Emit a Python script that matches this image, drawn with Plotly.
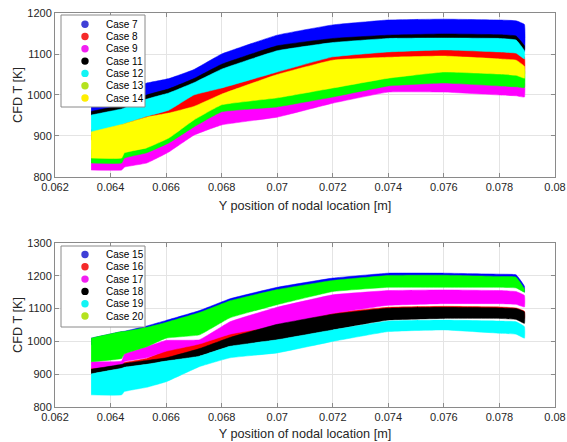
import plotly.graph_objects as go

# ---------------- data ----------------
X_TOP = [0.0633, 0.0644, 0.0645, 0.0653, 0.0661, 0.0670, 0.0680, 0.0700, 0.0720, 0.0740, 0.0760, 0.0780, 0.0786, 0.0789]
c7_hi = [1000, 1012, 1013, 1029, 1040, 1062, 1100, 1146, 1171, 1183, 1185, 1183, 1181, 1172]
c7_lo = [950, 965, 967, 988, 1003, 1028, 1060, 1106, 1127, 1137, 1138, 1137, 1133, 1105]
c8_hi = [915, 935, 937, 952, 968, 1005, 1022, 1060, 1098, 1110, 1115, 1110, 1107, 1093]
c8_lo = [890, 908, 910, 926, 936, 952, 982, 1030, 1065, 1072, 1075, 1068, 1065, 1050]
c9_hi = [849, 849, 861, 874, 898, 937, 974, 986, 1010, 1037, 1044, 1037, 1034, 1030]
c9_lo = [817, 817, 824, 834, 861, 902, 927, 946, 980, 1007, 1007, 1000, 998, 995]
c11_hi = [960, 975, 977, 1000, 1015, 1040, 1075, 1120, 1138, 1146, 1149, 1147, 1144, 1120]
c11_lo = [951, 966, 968, 990, 1005, 1030, 1063, 1108, 1128, 1138, 1139, 1138, 1134, 1108]
c12_hi = [951, 966, 968, 990, 1005, 1030, 1063, 1108, 1128, 1138, 1139, 1138, 1134, 1108]
c12_lo = [907, 928, 930, 948, 963, 1000, 1017, 1056, 1093, 1105, 1110, 1105, 1102, 1088]
c13_hi = [866, 866, 879, 891, 915, 959, 996, 1013, 1037, 1061, 1076, 1071, 1068, 1061]
c13_lo = [834, 834, 846, 859, 883, 922, 959, 971, 995, 1022, 1029, 1022, 1020, 1018]
c14_hi = [910, 928, 930, 946, 956, 972, 1002, 1050, 1085, 1092, 1095, 1088, 1085, 1070]
c14_lo = [846, 846, 859, 871, 895, 939, 976, 993, 1017, 1041, 1056, 1051, 1048, 1041]

X_BOT = [0.0633, 0.0644, 0.0645, 0.0653, 0.0660, 0.0672, 0.0683, 0.0700, 0.0720, 0.0740, 0.0760, 0.0780, 0.0786, 0.0789]
c15_hi = [1010, 1030, 1031, 1047, 1064, 1094, 1130, 1165, 1193, 1208, 1208, 1205, 1203, 1168]
c15_lo = [990, 1010, 1010, 1025, 1040, 1070, 1105, 1140, 1170, 1185, 1185, 1180, 1178, 1150]
c16_hi = [918, 933, 936, 948, 972, 995, 1028, 1056, 1087, 1104, 1107, 1105, 1102, 1092]
c16_lo = [905, 920, 922, 932, 942, 975, 1005, 1035, 1065, 1085, 1088, 1085, 1082, 1070]
c17_hi = [938, 940, 962, 984, 1003, 1005, 1060, 1104, 1142, 1155, 1157, 1155, 1152, 1140]
c17_lo = [918, 925, 938, 950, 970, 992, 1022, 1048, 1085, 1110, 1115, 1115, 1113, 1105]
c18_hi = [915, 930, 933, 942, 950, 978, 1012, 1052, 1083, 1101, 1104, 1102, 1100, 1090]
c18_lo = [901, 918, 921, 930, 940, 955, 985, 1005, 1035, 1065, 1070, 1070, 1067, 1055]
c19_hi = [901, 918, 921, 930, 940, 955, 985, 1005, 1035, 1062, 1065, 1062, 1060, 1045]
c19_lo = [837, 837, 847, 860, 877, 923, 950, 965, 1000, 1030, 1035, 1025, 1022, 1010]
c20_hi = [1010, 1030, 1030, 1043, 1058, 1088, 1124, 1158, 1186, 1201, 1202, 1198, 1196, 1160]
c20_lo = [938, 948, 962, 984, 1010, 1020, 1072, 1112, 1152, 1165, 1165, 1165, 1163, 1150]

TOP_NAMES = ["Case 7", "Case 8", "Case 9", "Case 11", "Case 12", "Case 13", "Case 14"]
BOT_NAMES = ["Case 15", "Case 16", "Case 17", "Case 18", "Case 19", "Case 20"]

# ---------------- styling ----------------
TOP_FILL = ["#0000ff", "#ff0000", "#ff00ff", "#000000", "#00ffff", "#00ff00", "#ffff00"]
TOP_LEG = ["#3f3fd6", "#f52a2a", "#f21ff2", "#000000", "#11f5f5", "#b4e21e", "#ffee00"]
BOT_FILL = ["#0000ff", "#ff0000", "#ff00ff", "#000000", "#00ffff", "#00ff00"]
BOT_LEG = ["#3f3fd6", "#f52a2a", "#f21ff2", "#000000", "#11f5f5", "#b4e21e"]

top_bands = [(c7_lo, c7_hi), (c8_lo, c8_hi), (c9_lo, c9_hi), (c11_lo, c11_hi),
             (c12_lo, c12_hi), (c13_lo, c13_hi), (c14_lo, c14_hi)]
bot_bands = [(c15_lo, c15_hi), (c16_lo, c16_hi), (c17_lo, c17_hi), (c18_lo, c18_hi),
             (c19_lo, c19_hi), (c20_lo, c20_hi)]

W, H = 567, 442
ML, MR, MT, MB = 55, 12, 13, 35
PW, PH = W - ML - MR, H - MT - MB

def px2paper(px, py):
    return (px - ML) / PW, (H - MB - py) / PH

fig = go.Figure()

def add_bands(xs, bands, names, fills, xa, ya):
    for (lo, hi), name, col in zip(bands, names, fills):
        fig.add_trace(go.Scatter(
            x=list(xs) + list(xs)[::-1], y=list(hi) + list(lo)[::-1],
            mode="lines", fill="toself", fillcolor=col, name=name,
            line=dict(color=col, width=0.5, shape="spline", smoothing=0.3), showlegend=False,
            hoverinfo="name", xaxis=xa, yaxis=ya))

add_bands(X_TOP, top_bands, TOP_NAMES, TOP_FILL, "x", "y")
add_bands(X_BOT, bot_bands, BOT_NAMES, BOT_FILL, "x2", "y2")

FONT = "Liberation Sans, Arial, sans-serif"

# ---------------- compact MATLAB-style legends ----------------
shapes, annotations = [], []

def add_legend(names, cols, box, first_y, step):
    bx0, by0, bx1, by1 = box
    x0, y1 = px2paper(bx0, by0)
    x1, y0 = px2paper(bx1, by1)
    shapes.append(dict(type="rect", xref="paper", yref="paper", x0=x0, x1=x1, y0=y0, y1=y1,
                       line=dict(color="#8a8a8a", width=1), fillcolor="white", layer="above"))
    for i, (name, col) in enumerate(zip(names, cols)):
        py = first_y + step * i
        dx, dy = px2paper(85, py)
        shapes.append(dict(type="circle", xref="paper", yref="paper",
                           xsizemode="pixel", ysizemode="pixel", xanchor=dx, yanchor=dy,
                           x0=-3.7, x1=3.7, y0=-3.7, y1=3.7,
                           fillcolor=col, line=dict(color=col, width=0), layer="above"))
        tx, ty = px2paper(104, py)
        annotations.append(dict(xref="paper", yref="paper", x=tx, y=ty, text=name,
                                showarrow=False, xanchor="left", yanchor="middle",
                                font=dict(family=FONT, size=10, color="#000000")))

add_legend(TOP_NAMES, TOP_LEG, (61, 15, 145, 107), 24.2, 12.3)
add_legend(BOT_NAMES, BOT_LEG, (61, 246, 145, 327), 254.5, 12.3)

axis_common = dict(
    showline=True, linecolor="#8a8a8a", linewidth=1, mirror="ticks",
    ticks="inside", ticklen=4, tickcolor="#8a8a8a",
    showgrid=True, gridcolor="#e4e4e4", gridwidth=1, zeroline=False, automargin=False,
    tickfont=dict(family=FONT, size=11, color="#262626"),
)
xcommon = dict(axis_common, range=[0.062, 0.08], dtick=0.002, tick0=0.062)
XTITLE = "Y position of nodal location [m]"
YTITLE = "CFD T [K]"

fig.update_layout(
    width=W, height=H,
    margin=dict(l=ML, r=MR, t=MT, b=MB),
    paper_bgcolor="white", plot_bgcolor="white",
    font=dict(family=FONT, size=11, color="#262626"),
    showlegend=False,
    xaxis=dict(xcommon, domain=[0, 1], anchor="y",
               title=dict(text=XTITLE, font=dict(size=12.7), standoff=8)),
    yaxis=dict(axis_common, domain=[0.5838, 1.0], anchor="x", range=[800, 1200], dtick=100,
               title=dict(text=YTITLE, font=dict(size=12.7), standoff=1)),
    xaxis2=dict(xcommon, domain=[0, 1], anchor="y2",
                title=dict(text=XTITLE, font=dict(size=12.7), standoff=6)),
    yaxis2=dict(axis_common, domain=[0.0, 0.4162], anchor="x2", range=[800, 1300], dtick=100,
                title=dict(text=YTITLE, font=dict(size=12.7), standoff=1)),
    shapes=shapes, annotations=annotations,
)

fig.write_html("out.html", config={"displayModeBar": False},
               post_script="document.body.style.margin='0px';document.body.style.overflow='hidden';")
